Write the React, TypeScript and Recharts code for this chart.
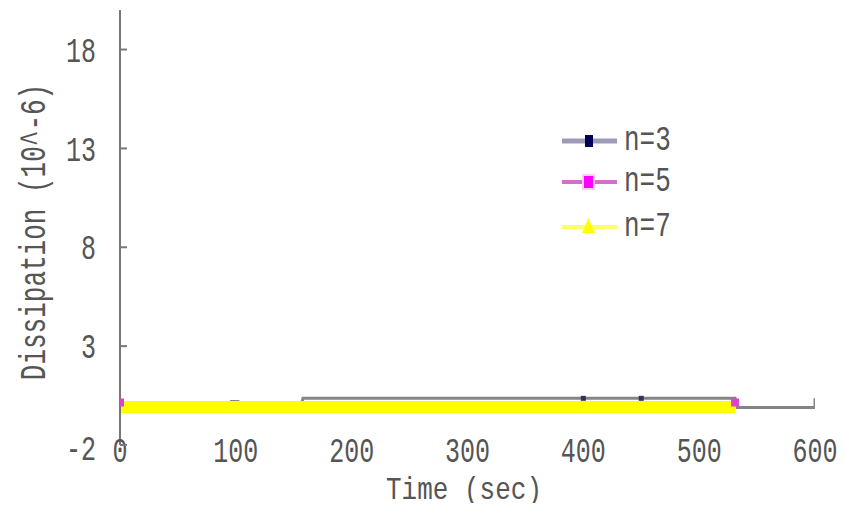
import React from 'react';
import { LineChart, Line, XAxis, YAxis } from 'recharts';

// ---- data ----
const xTicks = [0, 100, 200, 300, 400, 500, 600];
const yTicks = [-2, 3, 8, 13, 18];

const n3Times = [0, 94, 96, 102, 104, 156, 158, 400, 450, 531, 533, 600, 600];
const n3Values = [-0.1, -0.1, 0.2, 0.2, -0.1, -0.1, 0.36, 0.36, 0.36, 0.36, -0.1, -0.1, 0.36];
const n3MarkerTimes = [400, 450];

const n5Times = [0, 100, 200, 300, 400, 500, 531];
const n5Values = [0.15, 0.15, 0.15, 0.15, 0.15, 0.15, 0.15];
const n5MarkerTimes = [0, 531];

const n7Times = [0, 100, 200, 300, 400, 500, 531];
const n7Values = [-0.08, -0.08, -0.08, -0.08, -0.08, -0.08, -0.08];

const seriesNames = ['n=3', 'n=5', 'n=7'];

const toRows = (ts: number[], vs: number[]) => ts.map((t, i) => ({ t, v: vs[i] }));
const d3 = toRows(n3Times, n3Values);
const d5 = toRows(n5Times, n5Values);
const d7 = toRows(n7Times, n7Values);

const FONT = '"Liberation Mono", "DejaVu Sans Mono", monospace';
const TXT = '#555';

const YTick = (props: any) => {
  const { x, y, payload } = props;
  const dy = payload.value === -2 ? 6 : 3;
  return (
    <g>
      <line x1={x} x2={x + 7} y1={y} y2={y} stroke="#777" strokeWidth={2} />
      <text
        transform={`translate(${x - 24},${y + dy}) scale(1,1.38)`}
        textAnchor="end"
        dominantBaseline="central"
        fontFamily={FONT}
        fontSize={25}
        fill={TXT}
      >
        {payload.value}
      </text>
    </g>
  );
};

const XTick = (props: any) => {
  const { x, y, payload } = props;
  return (
    <text
      transform={`translate(${x},${y + 8}) scale(1,1.38)`}
      textAnchor="middle"
      dominantBaseline="central"
      fontFamily={FONT}
      fontSize={25}
      fill={TXT}
    >
      {payload.value}
    </text>
  );
};

const N3Dot = (props: any) => {
  const { cx, cy, payload, index } = props;
  if (!n3MarkerTimes.includes(payload.t)) return <g key={`d3-${index}`} />;
  return <rect key={`d3-${index}`} x={cx - 2.5} y={cy - 2.5} width={5} height={5} fill="#333355" />;
};

const N5Dot = (props: any) => {
  const { cx, cy, payload, index } = props;
  if (!n5MarkerTimes.includes(payload.t)) return <g key={`d5-${index}`} />;
  return <rect key={`d5-${index}`} x={cx - 4} y={cy - 4} width={8} height={8} fill="#dd44cc" />;
};

const LegendBox = () => {
  const rows = [13, 54, 99];
  return (
    <svg width={140} height={120} style={{ overflow: 'visible', display: 'block' }}>
      <line x1={4} x2={59} y1={rows[0]} y2={rows[0]} stroke="#9c9cb8" strokeWidth={5} />
      <rect x={27} y={rows[0] - 6} width={8} height={12} fill="#000055" />
      <line x1={4} x2={59} y1={rows[1]} y2={rows[1]} stroke="#d070c8" strokeWidth={4} />
      <rect x={24} y={rows[1] - 8} width={13} height={16} fill="#ffccf4" />
      <rect x={26} y={rows[1] - 6} width={9} height={12} fill="#ff00ff" />
      <line x1={4} x2={59} y1={rows[2]} y2={rows[2]} stroke="#ffff66" strokeWidth={4} />
      <polygon points={`30.5,${rows[2] - 9} 37,${rows[2] + 6} 24,${rows[2] + 6}`} fill="#ffff00" />
      {seriesNames.map((n, i) => (
        <text
          key={n}
          transform={`translate(66,${rows[i] - 1}) scale(1,1.38)`}
          dominantBaseline="central"
          fontFamily={FONT}
          fontSize={26}
          fill={TXT}
        >
          {n}
        </text>
      ))}
    </svg>
  );
};

export default function App() {
  return (
    <div style={{ width: 830, height: 495, position: 'relative', background: '#fff' }}>
      <LineChart width={830} height={495} margin={{ top: 2, right: 23, bottom: 0, left: 0 }}>
        <XAxis
          type="number"
          dataKey="t"
          domain={[0, 600]}
          ticks={xTicks}
          axisLine={false}
          tickLine={false}
          tickSize={0}
          tickMargin={0}
          height={58}
          tick={<XTick />}
          interval={0}
          allowDataOverflow
        />
        <YAxis
          type="number"
          domain={[-2, 20]}
          ticks={yTicks}
          width={112}
          axisLine={{ stroke: '#777', strokeWidth: 2 }}
          tickLine={false}
          tickSize={0}
          tickMargin={0}
          tick={<YTick />}
          interval={0}
          allowDataOverflow
        />
        <Line
          data={d3}
          dataKey="v"
          type="linear"
          stroke="#858585"
          strokeWidth={3}
          dot={<N3Dot />}
          activeDot={false}
          isAnimationActive={false}
          name={seriesNames[0]}
        />
        <Line
          data={d5}
          dataKey="v"
          type="linear"
          stroke="#dd44cc"
          strokeWidth={3}
          dot={<N5Dot />}
          activeDot={false}
          isAnimationActive={false}
          name={seriesNames[1]}
        />
        <Line
          data={d7}
          dataKey="v"
          type="linear"
          stroke="#ffff00"
          strokeWidth={12}
          dot={false}
          activeDot={false}
          isAnimationActive={false}
          name={seriesNames[2]}
        />
      </LineChart>
      <div style={{ position: 'absolute', left: 550, top: 120 }}>
        <LegendBox />
      </div>
      <div
        style={{
          position: 'absolute',
          left: 464 - 8,
          top: 490 - 8,
          transform: 'translate(-50%,-50%) scale(1,1.22)',
          fontFamily: FONT,
          fontSize: 26,
          color: TXT,
          whiteSpace: 'nowrap',
          lineHeight: 1,
        }}
      >
        Time (sec)
      </div>
      <div
        style={{
          position: 'absolute',
          left: 35 - 8,
          top: 232 - 8,
          transform: 'translate(-50%,-50%) rotate(-90deg) scale(1,1.45)',
          fontFamily: FONT,
          fontSize: 26,
          color: TXT,
          whiteSpace: 'nowrap',
          lineHeight: 1,
        }}
      >
        Dissipation (10^-6)
      </div>
    </div>
  );
}
